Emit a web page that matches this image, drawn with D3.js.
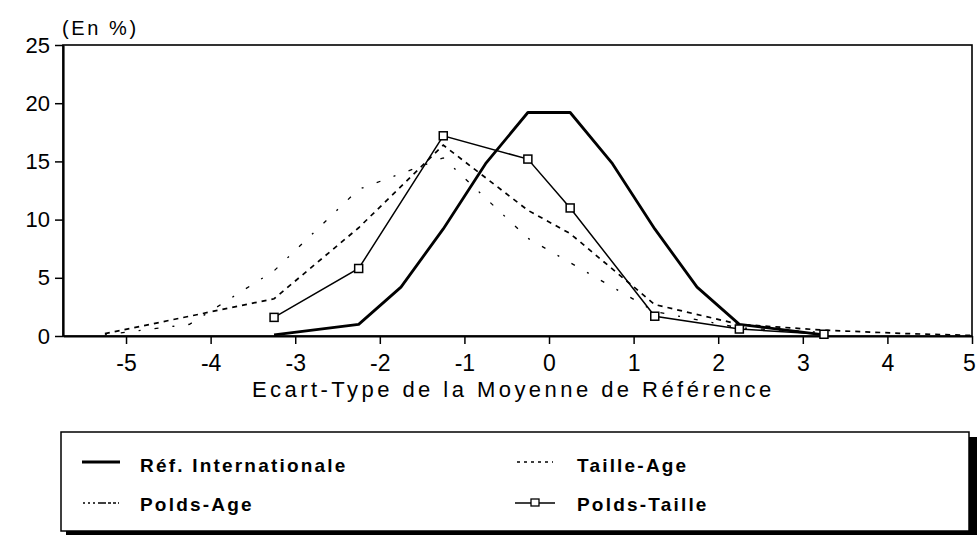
<!DOCTYPE html>
<html>
<head>
<meta charset="utf-8">
<script src="https://cdn.jsdelivr.net/npm/d3@7"></script>
<style>
  body { margin: 0; background: #fff; }
  text { font-family: "Liberation Sans", Arial, sans-serif; fill: #000; }
</style>
</head>
<body>
<svg id="chart" width="977" height="535"></svg>
<script>
// values
const xTicks = [-5, -4, -3, -2, -1, 0, 1, 2, 3, 4, 5];
const yTicks = [0, 5, 10, 15, 20, 25];

const refX = [-3.25, -2.25, -1.75, -1.25, -0.75, -0.25, 0.25, 0.75, 1.25, 1.75, 2.25, 3.25];
const refY = [0.1, 1.0, 4.2, 9.2, 14.8, 19.2, 19.2, 14.8, 9.2, 4.2, 1.0, 0.1];

const tailleAgeX = [-5.25, -4.25, -3.25, -2.25, -1.25, -0.25, 0.25, 1.25, 2.25, 3.25, 4.25, 5];
const tailleAgeY = [0.2, 1.7, 3.2, 9.3, 16.4, 10.8, 8.8, 2.7, 1.0, 0.5, 0.2, 0.05];

const poidsAgeX = [-5.25, -4.25, -3.25, -2.25, -1.25, -0.25, 0.25, 1.25, 2.25, 3.25];
const poidsAgeY = [0.1, 1.0, 5.6, 12.6, 15.3, 8.4, 6.3, 2.1, 0.7, 0.3];

const poidsTailleX = [-3.25, -2.25, -1.25, -0.25, 0.25, 1.25, 2.25, 3.25];
const poidsTailleY = [1.6, 5.8, 17.2, 15.2, 11.0, 1.7, 0.6, 0.15];

const legendLabels = ["Réf. Internationale", "Taille-Age", "Polds-Age", "Polds-Taille"];

const svg = d3.select("#chart");
const mLeft = 63, mRight = 972, mTop = 45, mBottom = 336;

const x = d3.scaleLinear().domain([-5.745, 5]).range([mLeft, mRight]);
const y = d3.scaleLinear().domain([0, 25]).range([mBottom, mTop]);

// frame
svg.append("rect")
  .attr("x", mLeft).attr("y", mTop)
  .attr("width", mRight - mLeft).attr("height", mBottom - mTop)
  .attr("fill", "none").attr("stroke", "#000").attr("stroke-width", 1.6);

// axes
const xAxis = d3.axisBottom(x).tickValues(xTicks).tickFormat(d => String(d))
  .tickSize(8).tickSizeOuter(0).tickPadding(11);
const gx = svg.append("g").attr("transform", `translate(0,${mBottom})`).call(xAxis);
gx.select(".domain").attr("stroke-width", 2.2);
gx.selectAll(".tick line").attr("stroke-width", 1.5);
gx.selectAll(".tick text").attr("font-size", 23).style("font-family", "Liberation Sans, Arial, sans-serif")
  .attr("dx", d => d === 5 ? -3 : 0);

const yAxis = d3.axisLeft(y).tickValues(yTicks).tickSize(8).tickSizeOuter(0).tickPadding(5);
const gy = svg.append("g").attr("transform", `translate(${mLeft},0)`).call(yAxis);
gy.select(".domain").attr("stroke-width", 2.2);
gy.selectAll(".tick line").attr("stroke-width", 1.5);
gy.selectAll(".tick text").attr("font-size", 22).style("font-family", "Liberation Sans, Arial, sans-serif");

svg.append("text").attr("x", 62).attr("y", 35).attr("font-size", 20)
  .attr("letter-spacing", 2.6).text("(En %)");

svg.append("text")
  .attr("x", 252).attr("y", 397)
  .attr("font-size", 22)
  .attr("letter-spacing", 3.45)
  .text("Ecart-Type de la Moyenne de Référence");

const line = d3.line().x(d => x(d[0])).y(d => y(d[1]));
const zip = (a, b) => a.map((v, i) => [v, b[i]]);

const plot = svg.append("g");

plot.append("path").datum(zip(poidsAgeX, poidsAgeY))
  .attr("d", line).attr("fill", "none").attr("stroke", "#000")
  .attr("stroke-width", 1.3).attr("stroke-dasharray", "2,14,4,14");

plot.append("path").datum(zip(tailleAgeX, tailleAgeY))
  .attr("d", line).attr("fill", "none").attr("stroke", "#000")
  .attr("stroke-width", 1.7).attr("stroke-dasharray", "5,5");

plot.append("path").datum(zip(refX, refY))
  .attr("d", line).attr("fill", "none").attr("stroke", "#000")
  .attr("stroke-width", 2.8).attr("stroke-linejoin", "round");

const pt = zip(poidsTailleX, poidsTailleY);
plot.append("path").datum(pt)
  .attr("d", line).attr("fill", "none").attr("stroke", "#000")
  .attr("stroke-width", 1.5);

plot.selectAll("rect.pt").data(pt).enter().append("rect")
  .attr("class", "pt")
  .attr("x", d => x(d[0]) - 4).attr("y", d => y(d[1]) - 4)
  .attr("width", 8).attr("height", 8)
  .attr("fill", "#fff").attr("stroke", "#000").attr("stroke-width", 1.5);

// legend
const lg = svg.append("g");
lg.append("rect").attr("x", 66).attr("y", 437).attr("width", 911).attr("height", 98).attr("fill", "#000");
lg.append("rect").attr("x", 61).attr("y", 432).attr("width", 908).attr("height", 99)
  .attr("fill", "#fff").attr("stroke", "#000").attr("stroke-width", 1.5);

const items = [
  { label: legendLabels[0], x0: 82, x1: 120, ty: 472, ly: 462, tx: 140, dash: null, w: 2.8 },
  { label: legendLabels[1], x0: 517, x1: 553, ty: 472, ly: 462, tx: 577, dash: "3,4", w: 1.6 },
  { label: legendLabels[2], x0: 83, x1: 119, ty: 511, ly: 503, tx: 140, dash: "2,3,2,3,2,3,8", w: 1.4 },
  { label: legendLabels[3], x0: 515, x1: 555, ty: 511, ly: 503, tx: 577, dash: null, w: 1.5, marker: true }
];

items.forEach(it => {
  lg.append("line").attr("x1", it.x0).attr("x2", it.x1).attr("y1", it.ly).attr("y2", it.ly)
    .attr("stroke", "#000").attr("stroke-width", it.w)
    .attr("stroke-dasharray", it.dash);
  if (it.marker) {
    const cx = (it.x0 + it.x1) / 2;
    lg.append("rect").attr("x", cx - 4).attr("y", it.ly - 4).attr("width", 8).attr("height", 7)
      .attr("fill", "#fff").attr("stroke", "#000").attr("stroke-width", 1.3);
  }
  lg.append("text").attr("x", it.tx).attr("y", it.ty)
    .attr("font-size", 19).attr("font-weight", "bold").attr("letter-spacing", 2.2)
    .text(it.label);
});
</script>
</body>
</html>
